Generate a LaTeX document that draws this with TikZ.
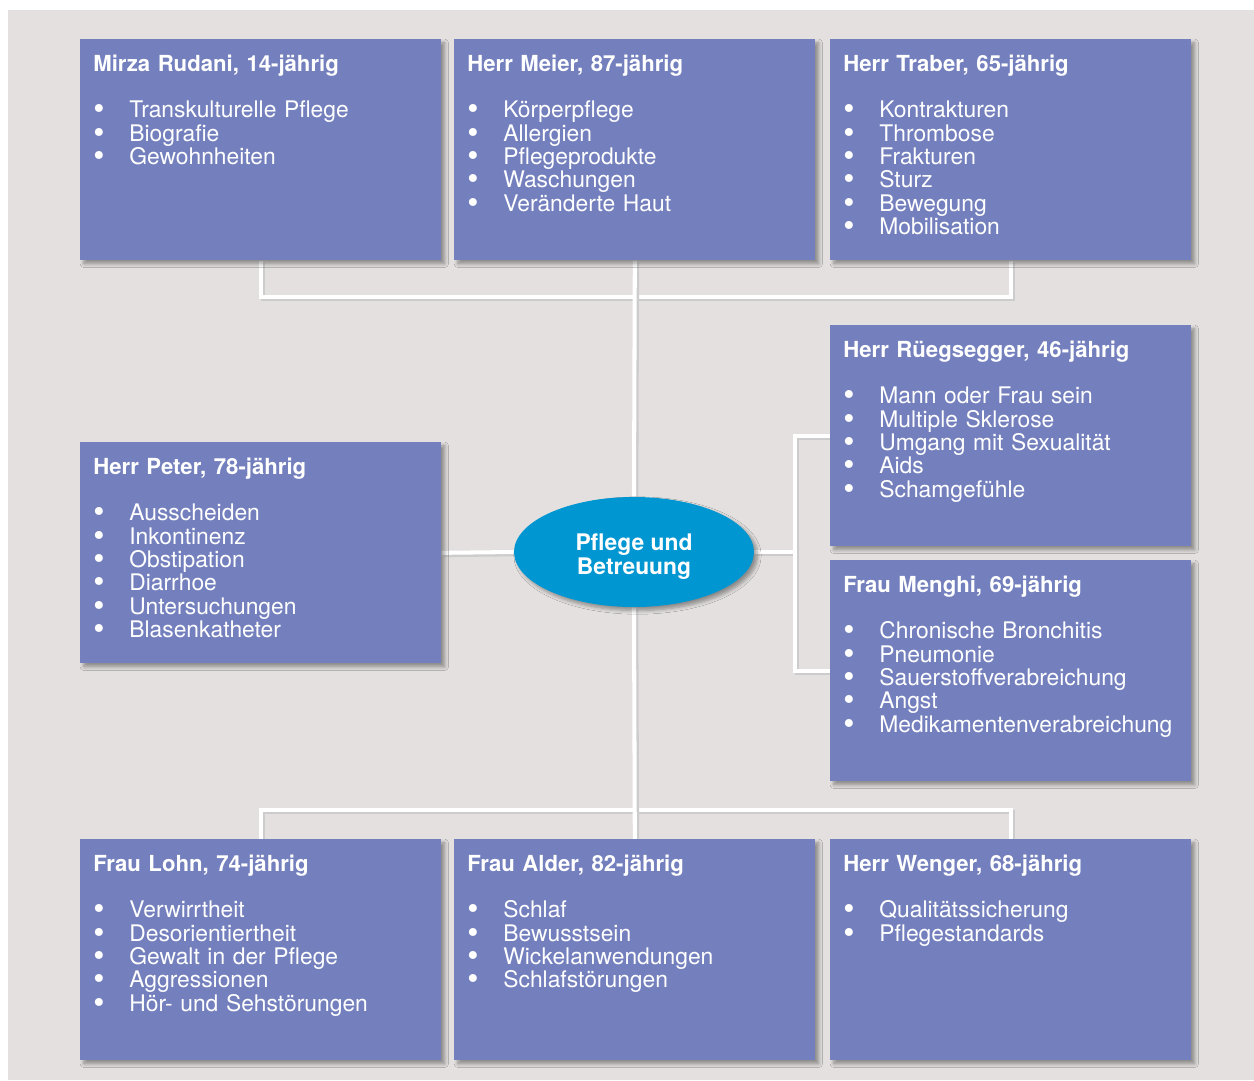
\documentclass[tikz,border=0pt]{standalone}
\usepackage{fontspec}
\setmainfont{TeX Gyre Heros}
\usepackage{xcolor}
\usepackage{graphicx}
\usepackage{tikz}
\usetikzlibrary{positioning,calc,shapes.geometric,shadows.blur}

\definecolor{cardblue}{HTML}{7480BD}
\definecolor{paper}{HTML}{E3E0DF}
\definecolor{hubblue}{HTML}{0096D2}

\newcommand{\itm}{\makebox[0.72cm][l]{\raisebox{-1.2pt}[0pt][0pt]{\scalebox{1.4}{\textbullet}}}}
\newcommand{\who}[1]{{\fontsize{12.6}{13.3}\selectfont\bfseries #1}}

\pgfdeclarelayer{bg}
\pgfsetlayers{bg,main}

\begin{document}
\begin{tikzpicture}[x=0.02cm, y=-0.02cm,
    card/.style={anchor=north west, fill=cardblue, inner sep=0pt,
        minimum width=7.22cm, minimum height=4.42cm,
        blur shadow={shadow xshift=2pt, shadow yshift=-2pt, shadow blur steps=6, shadow opacity=38}},
    cardtext/.style={anchor=base west, inner sep=0pt, text=white, text width=6.9cm, align=left,
        font=\fontsize{13}{13.3}\selectfont},
    hub/.style={ellipse, fill=hubblue, inner sep=0pt, minimum width=4.8cm, minimum height=2.2cm,
        blur shadow={shadow xshift=2pt, shadow yshift=-2pt, shadow blur steps=6, shadow opacity=38}},
    hubtext/.style={text=white, align=center, inner sep=0pt, font=\fontsize{13}{14}\selectfont\bfseries},
    link/.style={draw=white, line width=2.3pt,
        preaction={draw=black!20, line width=2.3pt, transform canvas={shift={(1.3pt,-1.3pt)}}}}]

    \useasboundingbox (0,0) rectangle (1254,1080);

    % cards
    \node [card] (rudani) at (80,39)   {};
    \node [card] (meier)  at (454,39)  {};
    \node [card] (traber) at (830,39)  {};
    \node [card] (ruegg)  at (830,325) {};
    \node [card] (menghi) at (830,560) {};
    \node [card] (peter)  at (80,442)  {};
    \node [card] (lohn)   at (80,839)  {};
    \node [card] (alder)  at (454,839) {};
    \node [card] (wenger) at (830,839) {};

    \node [hub] (pflege) at (634,552) {};
    \node [hubtext] at ([yshift=-0.09cm]pflege.center) {Pflege und\\Betreuung};

    % texts
    \node [cardtext] at ([shift={(13,32)}]rudani.north west) {\who{Mirza Rudani, 14-jährig}\\[13.3pt]
        \itm Transkulturelle Pflege\\ \itm Biografie\\ \itm Gewohnheiten};
    \node [cardtext] at ([shift={(13,32)}]meier.north west) {\who{Herr Meier, 87-jährig}\\[13.3pt]
        \itm Körperpflege\\ \itm Allergien\\ \itm Pflegeprodukte\\ \itm Waschungen\\ \itm Veränderte Haut};
    \node [cardtext] at ([shift={(13,32)}]traber.north west) {\who{Herr Traber, 65-jährig}\\[13.3pt]
        \itm Kontrakturen\\ \itm Thrombose\\ \itm Frakturen\\ \itm Sturz\\ \itm Bewegung\\ \itm Mobilisation};
    \node [cardtext] at ([shift={(13,32)}]ruegg.north west) {\who{Herr Rüegsegger, 46-jährig}\\[13.3pt]
        \itm Mann oder Frau sein\\ \itm Multiple Sklerose\\ \itm Umgang mit Sexualität\\ \itm Aids\\ \itm Schamgefühle};
    \node [cardtext] at ([shift={(13,32)}]menghi.north west) {\who{Frau Menghi, 69-jährig}\\[13.3pt]
        \itm Chronische Bronchitis\\ \itm Pneumonie\\ \itm Sauerstoffverabreichung\\ \itm Angst\\ \itm Medikamentenverabreichung};
    \node [cardtext] at ([shift={(13,32)}]peter.north west) {\who{Herr Peter, 78-jährig}\\[13.3pt]
        \itm Ausscheiden\\ \itm Inkontinenz\\ \itm Obstipation\\ \itm Diarrhoe\\ \itm Untersuchungen\\ \itm Blasenkatheter};
    \node [cardtext] at ([shift={(13,32)}]lohn.north west) {\who{Frau Lohn, 74-jährig}\\[13.3pt]
        \itm Verwirrtheit\\ \itm Desorientiertheit\\ \itm Gewalt in der Pflege\\ \itm Aggressionen\\ \itm Hör- und Sehstörungen};
    \node [cardtext] at ([shift={(13,32)}]alder.north west) {\who{Frau Alder, 82-jährig}\\[13.3pt]
        \itm Schlaf\\ \itm Bewusstsein\\ \itm Wickelanwendungen\\ \itm Schlafstörungen};
    \node [cardtext] at ([shift={(13,32)}]wenger.north west) {\who{Herr Wenger, 68-jährig}\\[13.3pt]
        \itm Qualitätssicherung\\ \itm Pflegestandards};

    \coordinate (knot) at (795,552);

    \begin{pgfonlayer}{bg}
        \fill [white] (0,0) rectangle (1254,1080);
        \fill [paper] (8,10) rectangle (1254,1080);
        \draw [link] (rudani.south) -- ++(0,36) -| (traber.south);
        \draw [link] (lohn.north) -- ++(0,-29) -| (wenger.north);
        \draw [link] (meier.south) -- (pflege.north);
        \draw [link] (pflege.south) -- (alder.north);
        \draw [link] (peter.east) -- (pflege.west);
        \draw [link] (pflege.east) -- (knot);
        \draw [link] (ruegg.west) -| (knot) |- (menghi.west);
    \end{pgfonlayer}
\end{tikzpicture}
\end{document}
